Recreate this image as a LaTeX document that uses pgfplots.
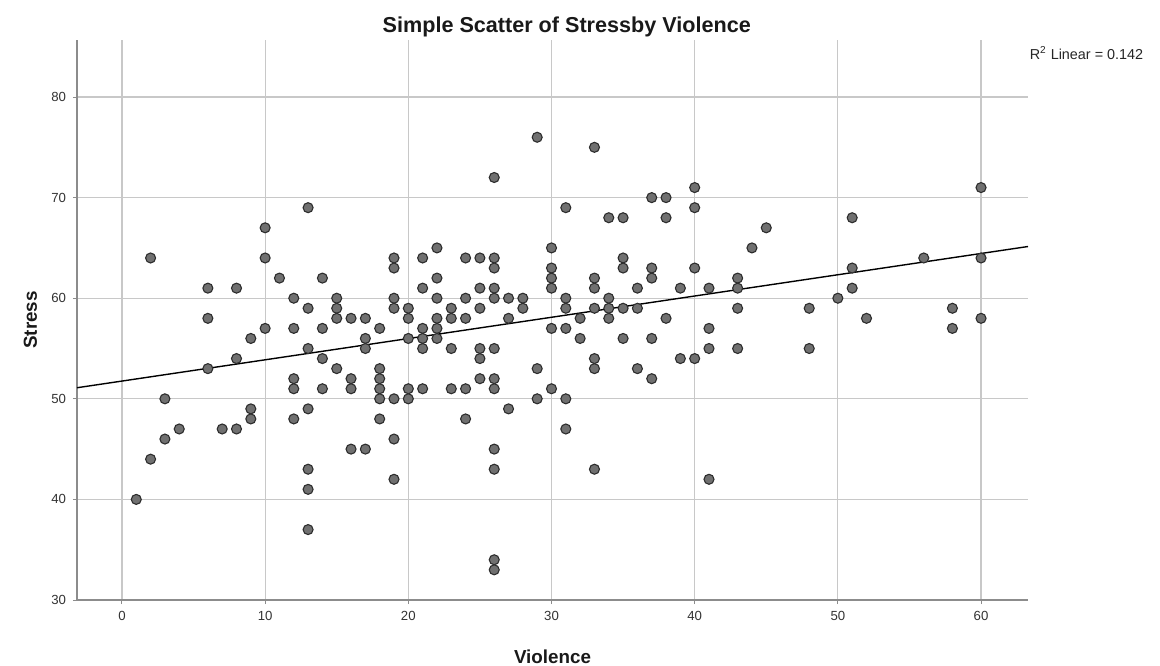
\documentclass[border=0pt]{standalone}
\usepackage{pgfplots}
\pgfplotsset{compat=1.18}
\usepackage{fontspec}
\setmainfont{Liberation Sans}
\definecolor{ptfill}{RGB}{112,112,112}
\definecolor{ptedge}{RGB}{45,45,45}
\definecolor{gridc}{RGB}{200,200,200}
\definecolor{axc}{RGB}{140,140,140}
\begin{document}
\begin{tikzpicture}
\useasboundingbox (0,0) rectangle (580bp,333bp);
\begin{axis}[
  at={(38.5bp,33bp)}, anchor=south west,
  scale only axis, width=475.5bp, height=280bp,
  xmin=-3.14, xmax=63.28, ymin=30, ymax=85.67,
  axis x line=bottom, axis y line=left,
  axis line style={-, draw=axc, line width=0.6bp},
  xtick={0,10,20,30,40,50,60},
  ytick={30,40,50,60,70,80},
  grid=major,
  major grid style={draw=gridc, line width=0.55bp},
  tick style={draw=axc, line width=0.5bp},
  major tick length=2bp,
  tick align=outside,
  ticklabel style={font=\fontsize{6.6bp}{7bp}\selectfont, text=black!80},
  /pgf/number format/assume math mode=true,
  clip=false,
]
\addplot[only marks, mark=*, mark size=2.5bp,
  mark options={fill=ptfill, draw=ptedge, line width=0.55bp}]
coordinates {
(1,40)
(2,64)(2,44)
(3,50)(3,46)
(4,47)
(6,61)(6,58)(6,53)
(7,47)
(8,61)(8,54)(8,47)
(9,56)(9,49)(9,48)
(10,67)(10,64)(10,57)
(11,62)
(12,60)(12,57)(12,52)(12,51)(12,48)
(13,69)(13,59)(13,55)(13,49)(13,43)(13,41)(13,37)
(14,62)(14,57)(14,54)(14,51)
(15,60)(15,59)(15,58)(15,53)
(16,58)(16,52)(16,51)(16,45)
(17,58)(17,56)(17,55)(17,45)
(18,57)(18,53)(18,52)(18,51)(18,50)(18,48)
(19,64)(19,63)(19,60)(19,59)(19,50)(19,46)(19,42)
(20,59)(20,58)(20,56)(20,51)(20,50)
(21,64)(21,61)(21,57)(21,56)(21,55)(21,51)
(22,65)(22,62)(22,60)(22,58)(22,57)(22,56)
(23,59)(23,58)(23,55)(23,51)
(24,64)(24,60)(24,58)(24,51)(24,48)
(25,64)(25,61)(25,59)(25,55)(25,54)(25,52)
(26,72)(26,64)(26,63)(26,61)(26,60)(26,55)(26,52)(26,51)(26,45)(26,43)(26,34)(26,33)
(27,60)(27,58)(27,49)
(28,60)(28,59)
(29,76)(29,53)(29,50)
(30,65)(30,63)(30,62)(30,61)(30,57)(30,51)
(31,69)(31,60)(31,59)(31,57)(31,50)(31,47)
(32,58)(32,56)
(33,75)(33,62)(33,61)(33,59)(33,54)(33,53)(33,43)
(34,68)(34,60)(34,59)(34,58)
(35,68)(35,64)(35,63)(35,59)(35,56)
(36,61)(36,59)(36,53)
(37,70)(37,63)(37,62)(37,56)(37,52)
(38,70)(38,68)(38,58)
(39,61)(39,54)
(40,71)(40,69)(40,63)(40,54)
(41,61)(41,57)(41,55)(41,42)
(43,62)(43,61)(43,59)(43,55)
(44,65)(45,67)
(48,59)(48,55)
(50,60)
(51,68)(51,63)(51,61)
(52,58)
(56,64)
(58,59)(58,57)
(60,71)(60,64)(60,58)
};
\addplot[black, line width=0.7bp] coordinates {(-3.14,51.1) (63.28,65.14)};
\node[font=\fontsize{10.8bp}{12bp}\selectfont\bfseries, text=black!90] at (rel axis cs:0.515,1.024) {Simple Scatter of Stressby Violence};
\node[font=\fontsize{7.2bp}{8bp}\selectfont, text=black!85] at (rel axis cs:1.0615,0.977) {R\textsuperscript{2} Linear = 0.142};
\node[font=\fontsize{9.4bp}{11bp}\selectfont\bfseries, text=black!90] at (rel axis cs:0.5,-0.102) {Violence};
\node[font=\fontsize{9.4bp}{11bp}\selectfont\bfseries, text=black!90, rotate=90] at (rel axis cs:-0.049,0.5) {Stress};
\end{axis}
\end{tikzpicture}
\end{document}
